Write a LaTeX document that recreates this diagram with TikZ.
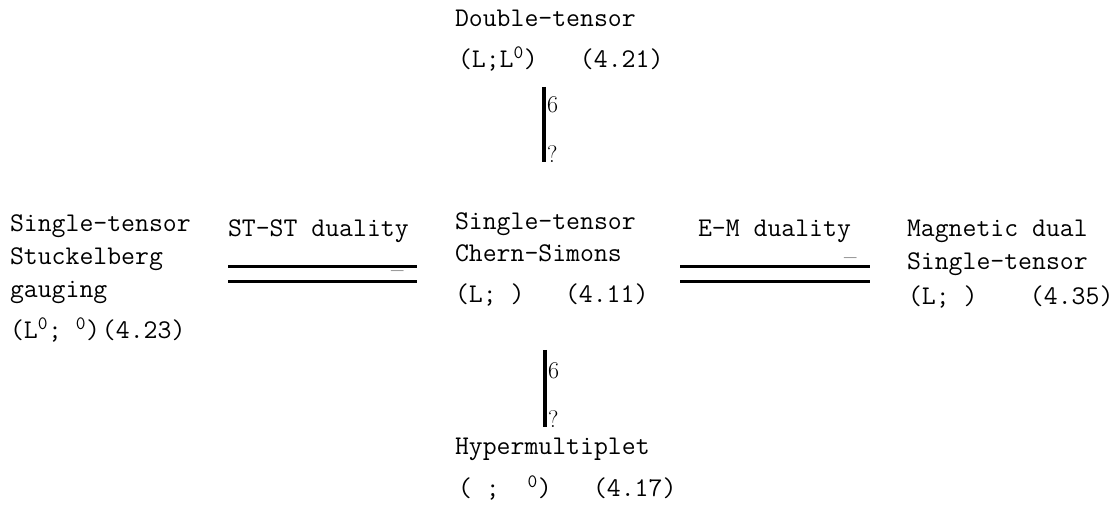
\documentclass[tikz,border=0pt]{standalone}
\usepackage{fontspec}
\begin{document}
\begin{tikzpicture}[x=1pt,y=-1pt,
  lbl/.style={anchor=base west,inner sep=0pt,outer sep=0pt,font=\fontsize{27}{31}\selectfont\ttfamily},
  arrmark/.style={anchor=west,inner sep=0pt,outer sep=0pt,font=\fontsize{24}{27}\selectfont\rmfamily},
  dashmark/.style={anchor=west,inner sep=0pt,outer sep=0pt,font=\fontsize{27}{30}\selectfont\rmfamily},
  dbl/.style={line width=3pt},
  bar/.style={line width=4pt}]
\useasboundingbox (0,0) rectangle (1120,510);
% top node
\node[lbl] (dt1) at (455,27) {Double-tensor};
\node[lbl] (dt2) at (458,68) {\makebox[122pt][l]{(L;L\textsuperscript{0})}(4.21)};
% left node
\node[lbl] (st1) at (10,232) {Single-tensor};
\node[lbl] (st2) at (10,265) {Stuckelberg};
\node[lbl] (st3) at (10,298) {gauging};
\node[lbl] (st4) at (10,339) {\makebox[92pt][l]{(L\textsuperscript{0}; \textsuperscript{0})}(4.23)};
% centre node
\node[lbl] (cs1) at (455,230) {Single-tensor};
\node[lbl] (cs2) at (455,262) {Chern-Simons};
\node[lbl] (cs3) at (455,303) {\makebox[110pt][l]{(L; )}(4.11)};
% right node
\node[lbl] (md1) at (907,237) {Magnetic dual};
\node[lbl] (md2) at (907,270) {Single-tensor};
\node[lbl] (md3) at (908,305) {\makebox[122pt][l]{(L; )}(4.35)};
% bottom node
\node[lbl] (hm1) at (455,455) {Hypermultiplet};
\node[lbl] (hm2) at (458,497) {\makebox[135pt][l]{( ; \ \textsuperscript{0})}(4.17)};
% duality labels
\node[lbl] (stl) at (228,237) {ST-ST duality};
\node[lbl] (eml) at (698,237) {E-M duality};
% connector end points
\coordinate (tbA) at (544,87);
\coordinate (tbB) at (544,162);
\coordinate (bbA) at (545,350);
\coordinate (bbB) at (545,427);
\coordinate (stA) at (228,267);
\coordinate (stB) at (417,267);
\coordinate (stC) at (228,282);
\coordinate (stD) at (417,282);
\coordinate (emA) at (680,267);
\coordinate (emB) at (870,267);
\coordinate (emC) at (680,282);
\coordinate (emD) at (870,282);
% vertical connectors
\draw[bar] (tbA) -- (tbB);
\node[arrmark] (tb6) at (547,105) {6};
\node[arrmark] (tbq) at (547,154) {?};
\draw[bar] (bbA) -- (bbB);
\node[arrmark] (bb6) at (548,371) {6};
\node[arrmark] (bbq) at (548,419) {?};
% horizontal connectors
\draw[dbl] (stA) -- (stB);
\draw[dbl] (stC) -- (stD);
\node[dashmark] (std) at (391,275) {--};
\draw[dbl] (emA) -- (emB);
\draw[dbl] (emC) -- (emD);
\node[dashmark] (emd) at (844,262) {--};
\end{tikzpicture}
\end{document}
